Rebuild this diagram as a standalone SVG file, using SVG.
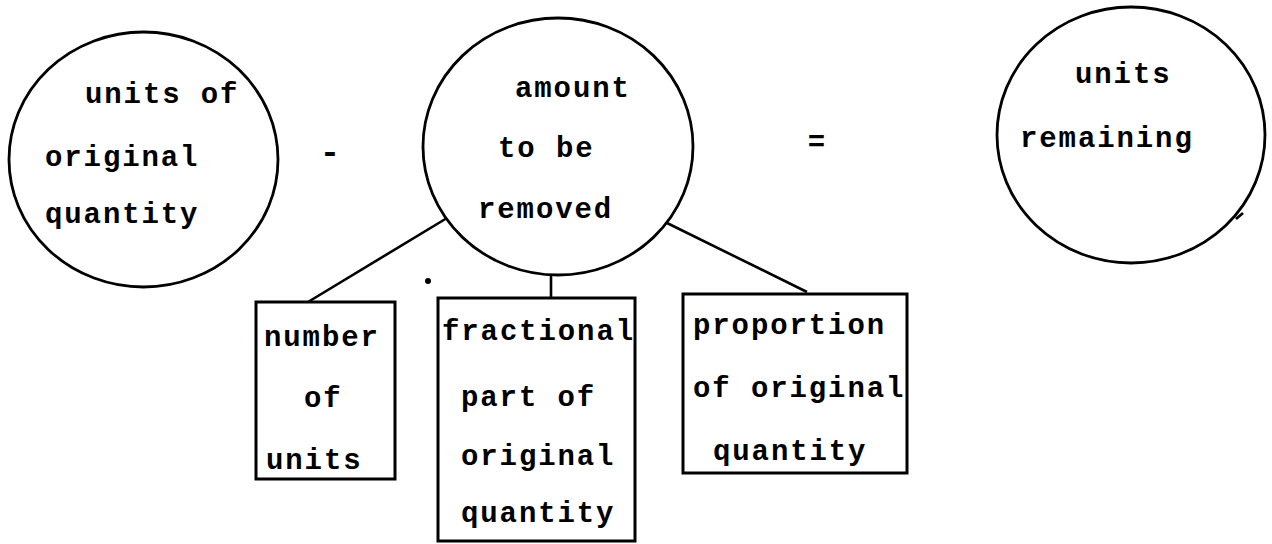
<svg xmlns="http://www.w3.org/2000/svg" width="1272" height="544" viewBox="0 0 1272 544">
<style>
.shape{fill:none;stroke:#000;stroke-width:2.8}
.box{fill:none;stroke:#000;stroke-width:3}
.conn{stroke:#000;stroke-width:2.6;fill:none}
text{font-family:"Liberation Mono","DejaVu Sans Mono",monospace;font-size:29px;font-weight:bold;letter-spacing:1.9px;fill:#000}
.op{letter-spacing:0}
</style>
<rect width="1272" height="544" fill="#fff"/>
<g id="connectors">
<line class="conn" x1="308" y1="302" x2="447" y2="218"/>
<line class="conn" x1="551" y1="275" x2="551" y2="298"/>
<line class="conn" x1="807" y1="292" x2="667" y2="223"/>
</g>
<g id="node-original">
<ellipse class="shape" cx="143.5" cy="159.5" rx="134.5" ry="127.5"/>
<text x="85" y="103">units of</text>
<text x="45" y="166">original</text>
<text x="45" y="223">quantity</text>
</g>
<g id="op-minus">
<text class="op" x="330" y="163" text-anchor="middle" style="font-size:34px">-</text>
</g>
<g id="node-removed">
<ellipse class="shape" cx="558" cy="146.5" rx="135" ry="128.5"/>
<text x="515" y="97">amount</text>
<text x="498" y="157">to be</text>
<text x="478" y="218">removed</text>
</g>
<g id="op-equals">
<text class="op" x="816.5" y="151" text-anchor="middle">=</text>
</g>
<g id="node-remaining">
<ellipse class="shape" cx="1131" cy="135" rx="134" ry="128"/>
<text x="1075" y="83">units</text>
<text x="1020" y="147">remaining</text>
<path class="conn" d="M1236 219 L1243 213" stroke-width="2"/>
</g>
<g id="node-number">
<rect class="box" x="256" y="302" width="139" height="177"/>
<text x="264" y="346">number</text>
<text x="304" y="407">of</text>
<text x="266" y="469">units</text>
</g>
<g id="node-fractional">
<rect class="box" x="438" y="298" width="197" height="243"/>
<text x="442" y="340">fractional</text>
<text x="461" y="406">part of</text>
<text x="461" y="465">original</text>
<text x="461" y="522">quantity</text>
</g>
<g id="node-proportion">
<rect class="box" x="683" y="294" width="224" height="179"/>
<text x="693" y="334">proportion</text>
<text x="693" y="397">of original</text>
<text x="713" y="460">quantity</text>
</g>
<circle cx="428" cy="281" r="3" fill="#000"/>
</svg>
